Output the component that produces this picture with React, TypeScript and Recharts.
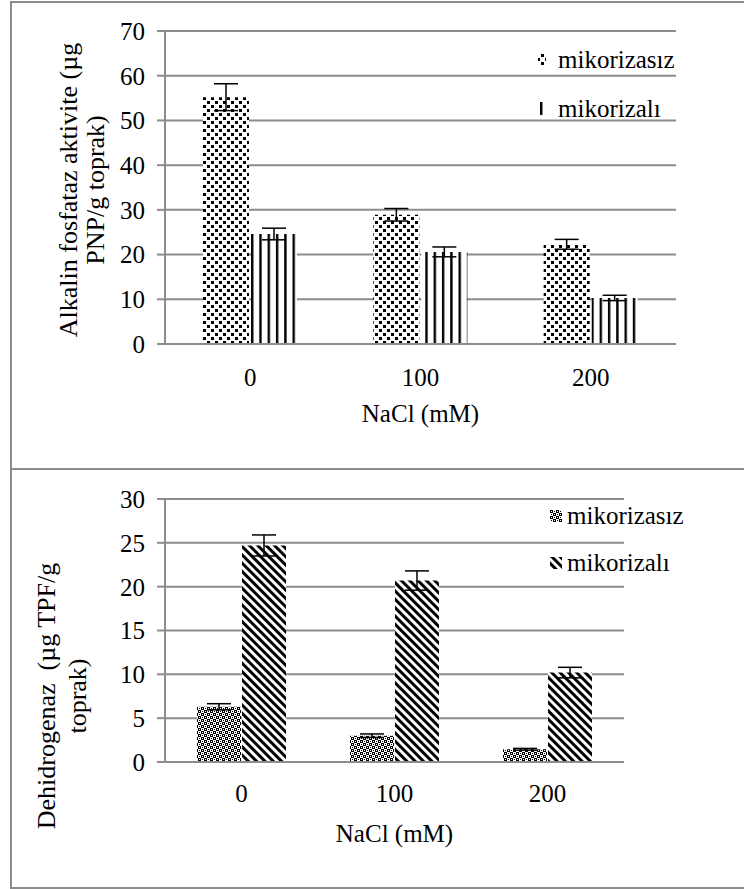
import React from "react";
import {
  BarChart,
  Bar,
  XAxis,
  YAxis,
  CartesianGrid,
  ErrorBar,
  Legend,
} from "recharts";

const categories = ["0", "100", "200"];

// Alkalin fosfataz
const alkNon = [55.2, 28.9, 22.3];
const alkNonErr = [3.0, 1.4, 1.1];
const alkMyc = [24.6, 20.6, 10.3];
const alkMycErr = [1.3, 1.1, 0.6];
const alkTicks = [0, 10, 20, 30, 40, 50, 60, 70];

// Dehidrogenaz
const dehNon = [6.3, 3.0, 1.45];
const dehNonErr = [0.35, 0.2, 0.1];
const dehMyc = [24.7, 20.7, 10.2];
const dehMycErr = [1.2, 1.1, 0.6];
const dehTicks = [0, 5, 10, 15, 20, 25, 30];

const seriesNames = ["mikorizasız", "mikorizalı"];
const seriesKeys = ["non", "myc"];

const alkData = categories.map((c, i) => ({
  name: c,
  non: alkNon[i],
  nonErr: alkNonErr[i],
  myc: alkMyc[i],
  mycErr: alkMycErr[i],
}));

const dehData = categories.map((c, i) => ({
  name: c,
  non: dehNon[i],
  nonErr: dehNonErr[i],
  myc: dehMyc[i],
  mycErr: dehMycErr[i],
}));

const FONT =
  '"Liberation Serif", "Times New Roman", Tinos, "Noto Serif", "DejaVu Serif", FreeSerif, serif';
const GRID = "#8c8c8c";

function Patterns() {
  return (
    <svg width={0} height={0} style={{ position: "absolute" }}>
      <defs>
        <pattern id="dots" width="8" height="8" patternUnits="userSpaceOnUse" x="3" y="1">
          <rect width="8" height="8" fill="#fff" />
          <rect x="0" y="0" width="3" height="3" fill="#000" />
          <rect x="4" y="4" width="3" height="3" fill="#000" />
        </pattern>
        <pattern id="vlines" width="8.3" height="10" patternUnits="userSpaceOnUse" x="2">
          <rect width="8.3" height="10" fill="#fff" />
          <rect x="0" y="0" width="2.4" height="10" fill="#000" />
        </pattern>
        <pattern id="plaid" width="6" height="6" patternUnits="userSpaceOnUse">
          <rect width="6" height="6" fill="#fff" />
          <rect x="0" y="0" width="3" height="3" fill="#000" />
          <rect x="3" y="3" width="3" height="3" fill="#000" />
          <rect x="1" y="1" width="1" height="1" fill="#fff" />
          <rect x="4" y="4" width="1" height="1" fill="#fff" />
          <rect x="4" y="1" width="1" height="1" fill="#000" />
          <rect x="1" y="4" width="1" height="1" fill="#000" />
        </pattern>
        <pattern
          id="diag"
          width="5.9"
          height="10"
          patternUnits="userSpaceOnUse"
          patternTransform="rotate(-45)"
        >
          <rect width="5.9" height="10" fill="#fff" />
          <rect x="0" y="0" width="3" height="10" fill="#000" />
        </pattern>
      </defs>
    </svg>
  );
}

function makeLegend(fills: Record<string, string>, sw: number, sh: number, gap: number, rowH: number) {
  return (props: any) => {
    const items = [...(props.payload || [])].sort(
      (a: any, b: any) => seriesKeys.indexOf(a.dataKey) - seriesKeys.indexOf(b.dataKey)
    );
    return (
      <div style={{ fontFamily: FONT, fontSize: 25, color: "#000" }}>
        {items.map((entry: any) => (
          <div key={entry.value} style={{ height: rowH, lineHeight: `${rowH}px`, whiteSpace: "nowrap" }}>
            <svg width={sw} height={sh} style={{ marginRight: gap, verticalAlign: 2 }}>
              <rect width={sw} height={sh} fill={fills[entry.dataKey]} />
            </svg>
            {entry.value}
          </div>
        ))}
      </div>
    );
  };
}

function yLabel(lines: string[], xs: number[], cy: number) {
  return () => (
    <g>
      {lines.map((l, i) => (
        <text
          key={i}
          x={xs[i]}
          y={cy}
          transform={`rotate(-90, ${xs[i]}, ${cy})`}
          textAnchor="middle"
          dominantBaseline="central"
          fontSize={26}
          fill="#000"
          style={{ whiteSpace: "pre", fontFamily: FONT }}
        >
          {l}
        </text>
      ))}
    </g>
  );
}

function xLabel(text: string, dy: number) {
  return (props: any) => {
    const vb = props.viewBox || {};
    return (
      <text
        x={vb.x + vb.width / 2}
        y={vb.y + dy}
        textAnchor="middle"
        dominantBaseline="central"
        fontSize={25}
        fill="#000"
        style={{ fontFamily: FONT }}
      >
        {text}
      </text>
    );
  };
}

const tickStyle = { fontSize: 25, fill: "#000", fontFamily: FONT };

export default function App() {
  return (
    <div
      style={{
        position: "absolute",
        left: 0,
        top: 0,
        width: 744,
        height: 889,
        background: "#fff",
        fontFamily: FONT,
      }}
    >
      <Patterns />
      {/* frame */}
      <div
        style={{
          position: "absolute",
          left: 10,
          top: 1,
          width: 740,
          height: 884,
          borderLeft: `2px solid ${GRID}`,
          borderTop: `2px solid ${GRID}`,
          borderBottom: `2px solid ${GRID}`,
        }}
      />
      <div
        style={{
          position: "absolute",
          left: 10,
          top: 468,
          width: 740,
          height: 0,
          borderTop: `2px solid ${GRID}`,
        }}
      />

      {/* top chart */}
      <div style={{ position: "absolute", left: 0, top: 0 }}>
        <BarChart
          width={744}
          height={440}
          data={alkData}
          margin={{ top: 31, right: 68, left: 0, bottom: 0 }}
          barGap={2}
          barSize={46}
          style={{ fontFamily: FONT }}
        >
          <CartesianGrid vertical={false} stroke={GRID} strokeWidth={2} />
          <XAxis
            dataKey="name"
            height={96}
            axisLine={{ stroke: GRID, strokeWidth: 2 }}
            tickLine={false}
            tickSize={0}
            tickMargin={24}
            tick={tickStyle}
            label={{ content: xLabel("NaCl (mM)", 69) }}
          />
          <YAxis
            width={165}
            domain={[0, 70]}
            ticks={alkTicks}
            interval={0}
            axisLine={{ stroke: GRID, strokeWidth: 2 }}
            tickLine={{ stroke: GRID, strokeWidth: 2 }}
            tickSize={8}
            tickMargin={12}
            tick={tickStyle}
            label={{
              content: yLabel(
                ["Alkalin fosfataz aktivite (µg", "PNP/g toprak)"],
                [68, 95],
                190
              ),
            }}
          />
          <Legend
            layout="horizontal"
            verticalAlign="middle"
            align="center"
            wrapperStyle={{ left: 538, top: 35, width: 200 }}
            content={makeLegend({ non: "url(#dots)", myc: "url(#vlines)" }, 8, 13, 12, 49)}
          />
          <Bar dataKey="non" name={seriesNames[0]} fill="url(#dots)" isAnimationActive={false}>
            <ErrorBar dataKey="nonErr" width={12} stroke="#000" strokeWidth={1.5} direction="y" />
          </Bar>
          <Bar dataKey="myc" name={seriesNames[1]} fill="url(#vlines)" isAnimationActive={false}>
            <ErrorBar dataKey="mycErr" width={12} stroke="#000" strokeWidth={1.5} direction="y" />
          </Bar>
        </BarChart>
      </div>

      {/* bottom chart */}
      <div style={{ position: "absolute", left: 0, top: 440 }}>
        <BarChart
          width={744}
          height={449}
          data={dehData}
          margin={{ top: 59, right: 120, left: 0, bottom: 0 }}
          barGap={1}
          barSize={44}
          style={{ fontFamily: FONT }}
        >
          <CartesianGrid vertical={false} stroke={GRID} strokeWidth={2} />
          <XAxis
            dataKey="name"
            height={127}
            axisLine={{ stroke: GRID, strokeWidth: 2 }}
            tickLine={false}
            tickSize={0}
            tickMargin={22}
            tick={tickStyle}
            label={{ content: xLabel("NaCl (mM)", 71) }}
          />
          <YAxis
            width={165}
            domain={[0, 30]}
            ticks={dehTicks}
            interval={0}
            axisLine={{ stroke: GRID, strokeWidth: 2 }}
            tickLine={{ stroke: GRID, strokeWidth: 2 }}
            tickSize={8}
            tickMargin={12}
            tick={tickStyle}
            label={{
              content: yLabel(["Dehidrogenaz  (µg TPF/g", "toprak)"], [46, 77], 256),
            }}
          />
          <Legend
            layout="horizontal"
            verticalAlign="middle"
            align="center"
            wrapperStyle={{ left: 550, top: 52, width: 190 }}
            content={makeLegend({ non: "url(#plaid)", myc: "url(#diag)" }, 12, 12, 5, 47)}
          />
          <Bar dataKey="non" name={seriesNames[0]} fill="url(#plaid)" isAnimationActive={false}>
            <ErrorBar dataKey="nonErr" width={12} stroke="#000" strokeWidth={1.5} direction="y" />
          </Bar>
          <Bar dataKey="myc" name={seriesNames[1]} fill="url(#diag)" isAnimationActive={false}>
            <ErrorBar dataKey="mycErr" width={12} stroke="#000" strokeWidth={1.5} direction="y" />
          </Bar>
        </BarChart>
      </div>
    </div>
  );
}
